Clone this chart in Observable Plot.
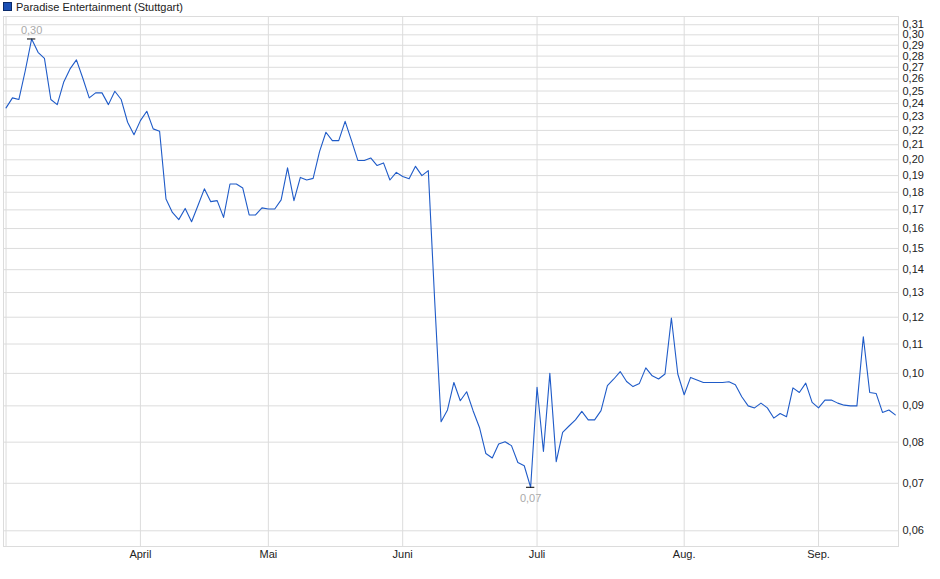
<!DOCTYPE html>
<html>
<head>
<meta charset="utf-8">
<script src="https://cdn.jsdelivr.net/npm/d3@7"></script>
<script src="https://cdn.jsdelivr.net/npm/@observablehq/plot@0.6"></script>
<style>
  html, body { margin: 0; padding: 0; background: #fff; }
  body { width: 940px; height: 579px; position: relative; overflow: hidden; font-family: "Liberation Sans", Arial, sans-serif; }
  #legend { position: absolute; left: 3px; top: 0px; height: 13px; font-size: 11px; color: #222; display: flex; align-items: center; white-space: nowrap; z-index: 2; }
  #legend .sw { width: 7px; height: 7px; background: #1a4fb4; border: 1px solid #0a2a6a; margin-right: 4px; }
  #chart { position: absolute; left: 0; top: 0; }
</style>
</head>
<body>
<div id="legend"><span class="sw"></span><span>Paradise Entertainment (Stuttgart)</span></div>
<div id="chart"></div>
<script>
// Schlusskurse pro Handelstag (Index 0 = erster Handelstag im Chart)
const kurs = [
  0.2367, 0.2445, 0.2432, 0.2670, 0.2960, 0.2835, 0.2780, 0.2432, 0.2392, 0.2572,
  0.2686, 0.2766, 0.2606, 0.2445, 0.2485, 0.2485, 0.2392, 0.2498, 0.2432, 0.2259,
  0.2170, 0.2271, 0.2341, 0.2211, 0.2194, 0.1761, 0.1686, 0.1647, 0.1708, 0.1636,
  0.1724, 0.1820, 0.1746, 0.1752, 0.1659, 0.1849, 0.1849, 0.1825, 0.1672, 0.1672,
  0.1711, 0.1705, 0.1705, 0.1756, 0.1948, 0.1752, 0.1889, 0.1873, 0.1883, 0.2054,
  0.2187, 0.2128, 0.2128, 0.2266, 0.2128, 0.1995, 0.1995, 0.2012, 0.1963, 0.1980,
  0.1873, 0.1920, 0.1894, 0.1880, 0.1958, 0.1900, 0.1931, 0.1266, 0.0855, 0.0888,
  0.0971, 0.0915, 0.0942, 0.0886, 0.0839, 0.0771, 0.0760, 0.0795, 0.0801, 0.0791,
  0.0749, 0.0741, 0.0691, 0.0956, 0.0776, 0.1000, 0.0751, 0.0826, 0.0843, 0.0860,
  0.0884, 0.0860, 0.0860, 0.0886, 0.0961, 0.0982, 0.1006, 0.0974, 0.0958, 0.0968,
  0.1018, 0.0992, 0.0982, 0.0998, 0.1197, 0.0998, 0.0933, 0.0987, 0.0979, 0.0971,
  0.0971, 0.0971, 0.0971, 0.0973, 0.0964, 0.0927, 0.0900, 0.0894, 0.0908, 0.0894,
  0.0865, 0.0878, 0.0869, 0.0954, 0.0940, 0.0969, 0.0910, 0.0894, 0.0917, 0.0917,
  0.0908, 0.0902, 0.0900, 0.0900, 0.1126, 0.0940, 0.0937, 0.0881, 0.0888, 0.0874
];
// Monatsanfänge (Handelstag-Index) und Beschriftungen
const monatIndex = [21, 41, 62, 83, 106, 127];
const monatLabels = ["April", "Mai", "Juni", "Juli", "Aug.", "Sep."];
// Y-Achsen-Ticks
const yTicks = [0.06, 0.07, 0.08, 0.09, 0.10, 0.11, 0.12, 0.13, 0.14, 0.15, 0.16, 0.17, 0.18, 0.19,
  0.20, 0.21, 0.22, 0.23, 0.24, 0.25, 0.26, 0.27, 0.28, 0.29, 0.30, 0.31];

const data = kurs.map((v, i) => ({i, v}));
const maxPt = data.reduce((a, b) => (b.v > a.v ? b : a));
const minPt = data.reduce((a, b) => (b.v < a.v ? b : a));
const fmt = d => d.toFixed(2).replace(".", ",");

const chart = Plot.plot({
  width: 940,
  height: 579,
  marginTop: 16,
  marginBottom: 33,
  marginLeft: 3,
  marginRight: 42,
  style: {fontFamily: "'Liberation Sans', Arial, sans-serif", fontSize: "11px", color: "#222", background: "#fff"},
  x: {domain: [-0.4, 139.5], label: null},
  y: {type: "log", domain: [0.05702, 0.3184], label: null},
  marks: [
    Plot.gridY(yTicks, {stroke: "#dcdcdc", strokeOpacity: 1}),
    Plot.ruleX([0, ...monatIndex], {stroke: "#dcdcdc", strokeOpacity: 1}),
    Plot.frame({stroke: "#dcdcdc"}),
    Plot.axisY(yTicks, {anchor: "right", label: null, tickSize: 0, tickPadding: 4, tickFormat: fmt, fill: "#222", fontSize: 11}),
    Plot.axisX(monatIndex, {anchor: "bottom", label: null, tickSize: 0, tickPadding: 4, tickFormat: d => monatLabels[monatIndex.indexOf(d)], fill: "#222", fontSize: 11}),
    Plot.line(data, {x: "i", y: "v", stroke: "#1f5bc8", strokeWidth: 1.1}),
    Plot.ruleY([maxPt, minPt], {y: "v", x1: d => d.i - 0.65, x2: d => d.i + 0.65, stroke: "#000", strokeWidth: 1}),
    Plot.text([maxPt], {x: "i", y: "v", text: d => fmt(d.v), dy: -9, fill: "#aaa", fontSize: 11}),
    Plot.text([minPt], {x: "i", y: "v", text: d => fmt(d.v), dy: 11, fill: "#aaa", fontSize: 11})
  ]
});
document.getElementById("chart").appendChild(chart);
</script>
</body>
</html>
